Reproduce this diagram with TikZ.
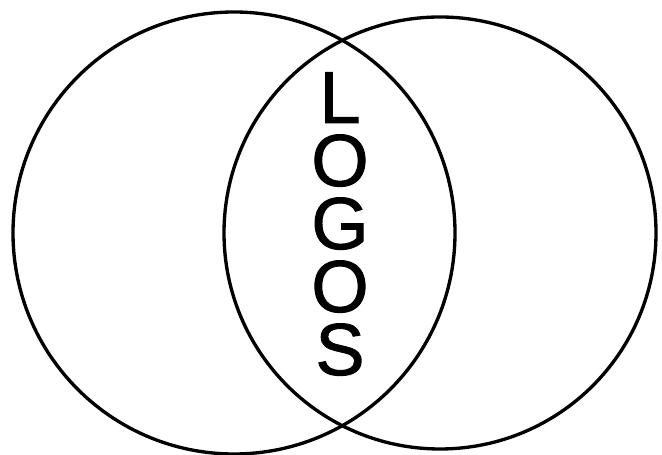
\documentclass[tikz,border=0pt]{standalone}
\usepackage{fontspec}
\setmainfont{Liberation Sans}
\newfontfamily\logofont[FakeBold=1.2]{Liberation Sans}
\tikzset{
  ring/.style={draw=black, circle, line width=1.9pt, inner sep=0pt, outer sep=0pt},
  letter/.style={font=\logofont\fontsize{42}{42}\selectfont, anchor=base,
    inner sep=0pt, text height=30pt, text depth=0pt}
}
\begin{document}
\begin{tikzpicture}[x=0.02cm, y=0.02cm]
  \useasboundingbox (0,0) rectangle (662,455);
  %% ── Two overlapping circles ─────────────────────────────
  \node[ring, minimum size=442*0.02cm] (leftring)  at (234,222) {};
  \node[ring, minimum size=432*0.02cm] (rightring) at (440,222) {};
  %% ── Word in the overlap, one letter per line ───────────
  \foreach \i/\ch in {0/L,1/O,2/G,3/O,4/S}{
    \node[letter] (ch\i) at (340,332-63*\i) {\ch};
  }
\end{tikzpicture}
\end{document}
